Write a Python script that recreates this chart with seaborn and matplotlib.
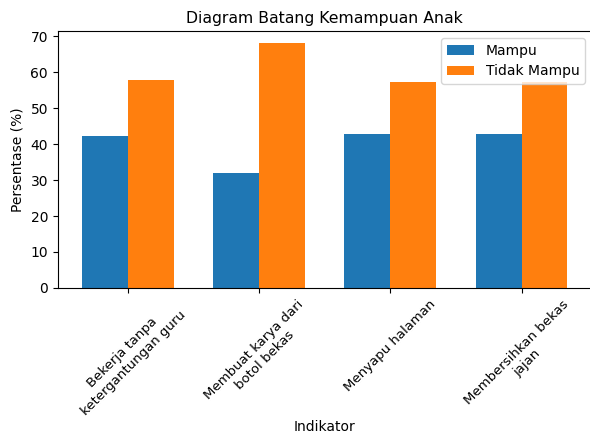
import pandas as pd
import matplotlib
matplotlib.use("Agg")
import matplotlib.pyplot as plt
import seaborn as sns

# Data
indikator = [
    "Bekerja tanpa\nketergantungan guru",
    "Membuat karya dari\nbotol bekas",
    "Menyapu halaman",
    "Membersihkan bekas\njajan",
]
mampu = [42.1, 32.0, 42.9, 42.9]
tidak_mampu = [57.9, 68.0, 57.1, 57.1]

df = pd.DataFrame({
    "Indikator": indikator * 2,
    "Persentase": mampu + tidak_mampu,
    "Status": ["Mampu"] * len(indikator) + ["Tidak Mampu"] * len(indikator),
})

fig = plt.figure(figsize=(5.9, 4.37), dpi=100)
ax = fig.add_axes([0.098, 0.341, 0.905, 0.588])

sns.barplot(data=df, x="Indikator", y="Persentase", hue="Status",
            palette=["#1f77b4", "#ff7f0e"], saturation=1, width=0.7,
            errorbar=None, ax=ax)

ax.set_xlim(-0.535, 3.535)
ax.set_ylim(0, 71.4)
ax.set_title("Diagram Batang Kemampuan Anak", fontsize=11.3)
ax.set_xlabel("Indikator", fontsize=10)
ax.xaxis.set_label_coords(0.5, -0.515)
ax.set_ylabel("Persentase (%)", fontsize=10)
ax.tick_params(axis="x", labelsize=9.5)
plt.setp(ax.get_xticklabels(), rotation=45, ha="center")
sns.move_legend(ax, "upper right", title=None, fontsize=10)

fig.savefig("out.png", dpi=100)
plt.close(fig)
